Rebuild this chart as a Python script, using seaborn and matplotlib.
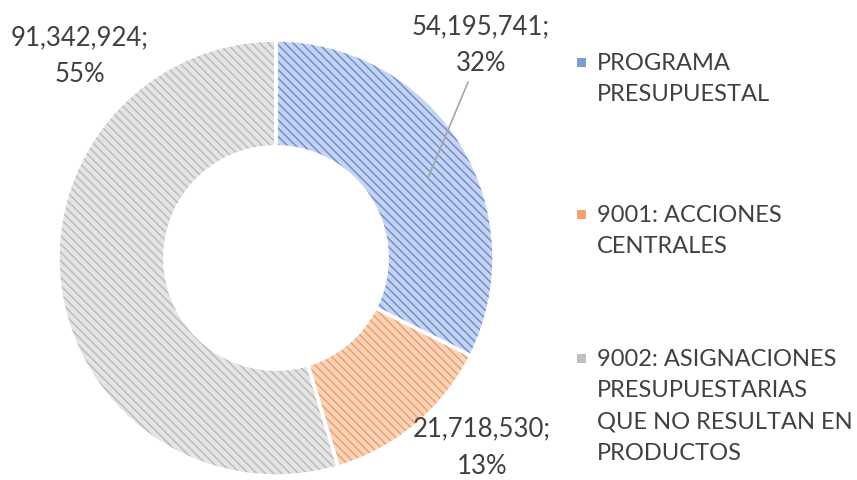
import matplotlib
matplotlib.use('Agg')
import matplotlib.pyplot as plt
import seaborn as sns
from matplotlib.patches import Rectangle

# 数据
categories = ['PROGRAMA\nPRESUPUESTAL',
              '9001: ACCIONES\nCENTRALES',
              '9002: ASIGNACIONES\nPRESUPUESTARIAS\nQUE NO RESULTAN EN\nPRODUCTOS']
values = [54195741, 21718530, 91342924]
colors = ['#4472C4', '#ED7D31', '#A5A5A5']
face_colors = ['#c6d4f0', '#f9d4ba', '#e4e4e4']
stripe_colors = ['#6f90d6', '#f0a068', '#bcbcbc']

# 设置样式
sns.set_theme(style='white')
plt.rcParams['font.family'] = ['Lato', 'DejaVu Sans']
plt.rcParams['hatch.linewidth'] = 1.1
text_color = '#404040'

fig = plt.figure(figsize=(8.57, 4.8), dpi=100)
ax = fig.add_axes([0, 0, 1, 1])

# 环形图 (底色 + 斜线)
wedges, _ = ax.pie(values, colors=face_colors, startangle=90, counterclock=False,
                   hatch='\\\\\\\\',
                   wedgeprops=dict(width=0.49, linewidth=0))
for w, sc in zip(wedges, stripe_colors):
    w.set_edgecolor(sc)
    w.set_linewidth(0)
# 白色分隔线
ax.pie(values, colors=['none'] * 3, startangle=90, counterclock=False,
       wedgeprops=dict(width=0.49, edgecolor='white', linewidth=2.5))

# 坐标范围 (中心在 276,258 像素, 半径 218 像素)
ax.set_xlim(-276 / 218, (857 - 276) / 218)
ax.set_ylim((258 - 480) / 218, 258 / 218)
ax.set_aspect('auto')
ax.axis('off')

# 数据标签
total = sum(values)
label_pos = [(0.94, 0.975), (0.945, -0.87), (-0.90, 0.925)]
for v, (x, y) in zip(values, label_pos):
    ax.text(x, y, f'{v:,};\n{v / total:.0%}', ha='center', va='center',
            fontsize=18.5, color=text_color, linespacing=1.6)

# 引导线
ax.plot([0.697, 0.881], [0.367, 0.807], color='#A6A6A6', linewidth=1.2)

# 图例
legend_tops = [62, 214, 358]
for lab, c, top in zip(categories, colors, legend_tops):
    fig.patches.append(Rectangle((577 / 857, 1 - (top + 5) / 480), 9 / 857, 9 / 480,
                                 transform=fig.transFigure, facecolor=c,
                                 edgecolor='none', alpha=0.7))
    fig.text(597 / 857, 1 - (top - 9) / 480, lab, ha='left', va='top',
             fontsize=17, color=text_color, linespacing=1.6)

plt.savefig('out.png', dpi=100)
plt.close()
